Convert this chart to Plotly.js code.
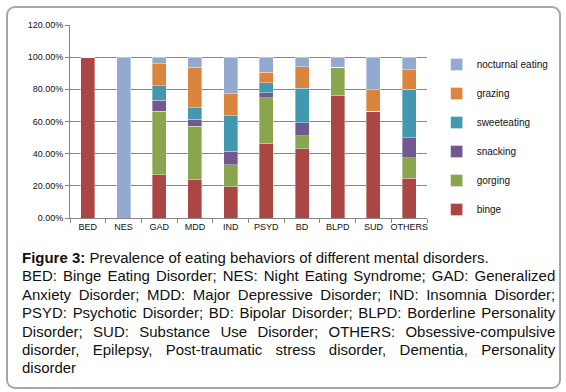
<!DOCTYPE html>
<html>
<head>
<meta charset="utf-8">
<script src="https://cdn.plot.ly/plotly-3.0.1.min.js"></script>
<style>
  html, body { margin: 0; padding: 0; background: #fff; }
  #wrap { position: relative; width: 566px; height: 392px; overflow: hidden; background: #fff; }
  #chart { position: absolute; left: 0; top: 0; width: 566px; height: 392px; }
  #frame { position: absolute; left: 6px; top: 6px; width: 551px; height: 379px;
           border: 2px solid #a6a6a6; border-radius: 9px; pointer-events: none; }
  #caption { position: absolute; left: 22px; top: 249px; width: 552px;
             transform: scaleX(0.966); transform-origin: left top;
             font-family: "Liberation Sans", Arial, sans-serif; font-size: 15.5px;
             line-height: 18.4px; color: #111; text-align: justify; }
  #caption b { font-weight: bold; }
</style>
</head>
<body>
<div id="wrap">
  <div id="chart"></div>
  <div id="frame"></div>
  <div id="caption"><b>Figure 3:</b> Prevalence of eating behaviors of different mental disorders.<br>BED: Binge Eating Disorder; NES: Night Eating Syndrome; GAD: Generalized Anxiety Disorder; MDD: Major Depressive Disorder; IND: Insomnia Disorder; PSYD: Psychotic Disorder; BD: Bipolar Disorder; BLPD: Borderline Personality Disorder; SUD: Substance Use Disorder; OTHERS: Obsessive-compulsive disorder, Epilepsy, Post-traumatic stress disorder, Dementia, Personality disorder</div>
</div>
<script>
const categories = ["BED", "NES", "GAD", "MDD", "IND", "PSYD", "BD", "BLPD", "SUD", "OTHERS"];
const binge      = [1.000, 0.000, 0.269, 0.238, 0.193, 0.466, 0.431, 0.762, 0.663, 0.246];
const gorging    = [0.000, 0.000, 0.394, 0.331, 0.138, 0.283, 0.080, 0.176, 0.000, 0.129];
const snacking   = [0.000, 0.000, 0.068, 0.046, 0.083, 0.029, 0.081, 0.000, 0.000, 0.124];
const sweeteating= [0.000, 0.000, 0.091, 0.072, 0.222, 0.063, 0.215, 0.000, 0.000, 0.300];
const grazing    = [0.000, 0.000, 0.137, 0.249, 0.138, 0.064, 0.135, 0.000, 0.134, 0.124];
const nocturnal  = [0.000, 1.000, 0.041, 0.064, 0.226, 0.095, 0.058, 0.062, 0.203, 0.077];

const seriesNames  = ["binge", "gorging", "snacking", "sweeteating", "grazing", "nocturnal eating"];
const seriesValues = [binge, gorging, snacking, sweeteating, grazing, nocturnal];
const seriesColors = ["#aa4643", "#89a54e", "#71588f", "#4198af", "#db843d", "#93a9cf"];

const traces = seriesNames.map((name, i) => ({
  type: "bar",
  name: name,
  x: categories,
  y: seriesValues[i],
  legendgroup: name,
  legendrank: seriesNames.length - i,
  marker: { color: seriesColors[i], line: { color: "rgba(255,255,255,0.6)", width: 0.6 } },
  hoverinfo: "skip"
}));

const layout = {
  width: 566, height: 392,
  margin: { l: 70, r: 117, t: 25, b: 174, pad: 0 },
  paper_bgcolor: "rgba(0,0,0,0)",
  plot_bgcolor: "#ffffff",
  barmode: "stack",
  bargap: 0.61,
  font: { family: "Liberation Sans, Arial, sans-serif", size: 9, color: "#111" },
  xaxis: {
    type: "category",
    tickson: "boundaries",
    tickangle: 0,
    ticks: "outside", ticklen: 4, tickcolor: "#868686",
    showline: true, linecolor: "#868686", linewidth: 1,
    showgrid: false,
    tickfont: { size: 9, color: "#111" },
    fixedrange: true
  },
  yaxis: {
    range: [0, 1.2],
    dtick: 0.2, tick0: 0,
    tickformat: ".2%",
    ticks: "outside", ticklen: 4, tickcolor: "#868686",
    showline: true, linecolor: "#868686", linewidth: 1,
    showgrid: true, gridcolor: "#868686", gridwidth: 1,
    zeroline: false,
    tickfont: { size: 9, color: "#111" },
    fixedrange: true
  },
  showlegend: true,
  legend: {
    x: 1.027, xanchor: "left",
    y: 0.87, yanchor: "top",
    traceorder: "grouped",
    tracegroupgap: 10,
    font: { size: 10, color: "#111" },
    bgcolor: "rgba(0,0,0,0)",
    itemclick: false, itemdoubleclick: false
  }
};

Plotly.newPlot("chart", traces, layout, { displayModeBar: false, staticPlot: true });
</script>
</body>
</html>
